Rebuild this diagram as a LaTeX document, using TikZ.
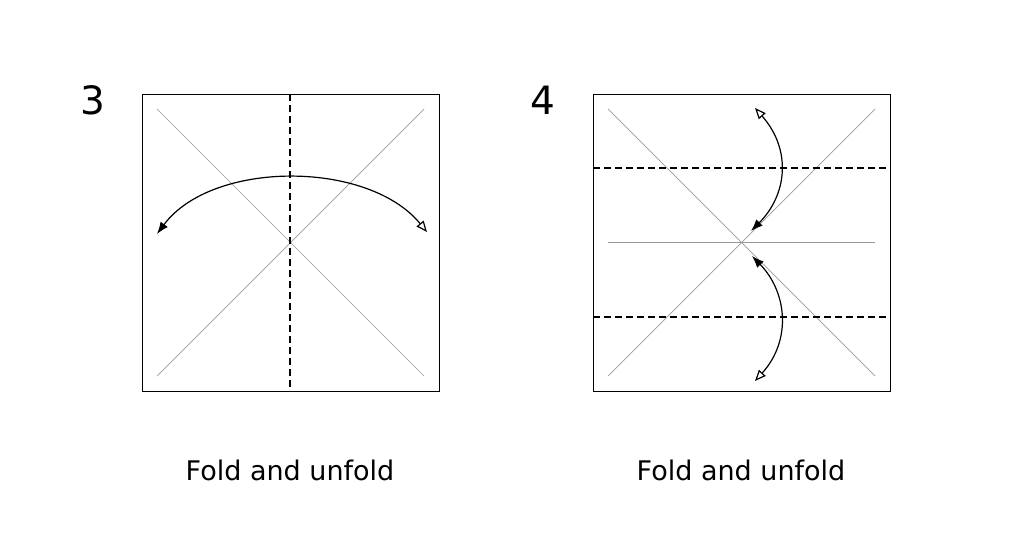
\documentclass[tikz,border=0pt]{standalone}
\usepackage{fontspec}
\setmainfont{DejaVu Sans}
\usetikzlibrary{arrows.meta}

\tikzset{
  sheet/.style={draw, line width=1pt},
  crease/.style={draw, gray!80, line width=0.7pt},
  valley/.style={draw, dashed, dash pattern=on 7pt off 4pt, line width=1.2pt},
  fold/.style={line width=1.2pt, {Triangle[open,length=11pt,width=9pt]}-{Latex[length=12pt,width=9pt]}},
  caption/.style={font=\fontsize{27}{32}\selectfont},
  stepnum/.style={font=\fontsize{39}{44}\selectfont}
}

\begin{document}
\begin{tikzpicture}[x=1pt, y=-1pt]
\useasboundingbox (0,0) rectangle (1017,554);

% step 3
\draw[sheet] (142,94) rectangle (439,391);
\draw[crease] (157,109) -- (424,376);
\draw[crease] (424,109) -- (157,376);
\draw[valley] (290,94) -- (290,391);
\coordinate (r3) at (427,232);
\coordinate (l3) at (157,234);
\draw[fold] (r3) .. controls (368,160) and (212,160) .. (l3);
\node[stepnum] (n3) at (93,100) {3};
\node[caption] (c3) at (290,470) {Fold and unfold};

% step 4
\draw[sheet] (593,94) rectangle (890,391);
\draw[crease] (608,109) -- (875,376);
\draw[crease] (875,109) -- (608,376);
\draw[crease] (608,242) -- (875,242);
\draw[valley] (593,168) -- (890,168);
\draw[valley] (593,317) -- (890,317);
\coordinate (t4) at (755,108);
\coordinate (m4a) at (751,231);
\coordinate (m4b) at (752,256);
\coordinate (b4) at (755,381);
\draw[fold] (t4) .. controls (792,150) and (787,195) .. (m4a);
\draw[fold] (b4) .. controls (792,340) and (787,292) .. (m4b);
\node[stepnum] (n4) at (543,100) {4};
\node[caption] (c4) at (741,470) {Fold and unfold};
\end{tikzpicture}
\end{document}
